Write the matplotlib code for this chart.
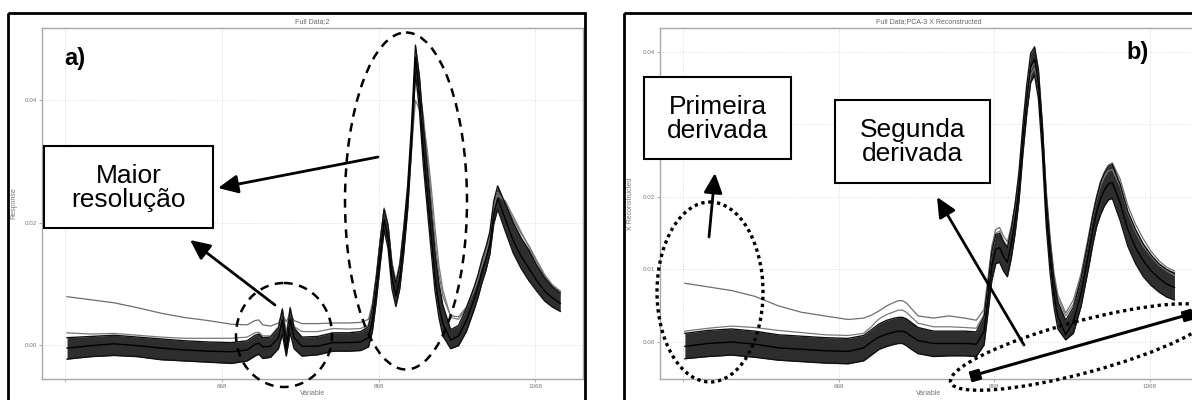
import matplotlib
matplotlib.use("Agg")
import matplotlib.pyplot as plt
from matplotlib.patches import Rectangle, Ellipse

plt.rcParams['font.family'] = ['Liberation Sans', 'DejaVu Sans']

# ---------------- data ----------------
wl = [470, 500, 530, 560, 590, 620, 650, 680,
      700, 710, 715, 720, 730, 740, 745, 750, 755, 760,
      770, 790, 810, 830, 845, 855,
      860, 865, 870, 875, 880, 885, 890, 895, 900, 905,
      910, 915, 920, 925, 930, 935, 940, 945, 950,
      960, 970, 980, 990, 995, 1000, 1005, 1010, 1015, 1020,
      1030, 1040, 1050, 1060, 1070, 1080, 1090, 1100]

# panel a) "Full Data;2"
a_mid = [-0.0005, -0.0001, 0.0002, -0.0001, -0.0005, -0.0008, -0.0010, -0.0011,
         -0.0008, 0.0001, 0.0003, -0.0003, -0.0002, 0.0012, 0.0040, -0.0008, 0.0042, 0.0012,
         -0.0002, -0.0002, 0.0004, 0.0004, 0.0005, 0.0012,
         0.0040, 0.0090, 0.0150, 0.0205, 0.0175, 0.0110, 0.0080, 0.0110, 0.0170, 0.0240,
         0.0340, 0.0470, 0.0410, 0.0320, 0.0250, 0.0180, 0.0110, 0.0065, 0.0035,
         0.0008, 0.0015, 0.0040, 0.0075, 0.0095, 0.0120, 0.0140, 0.0165, 0.0215, 0.0240,
         0.0205, 0.0170, 0.0145, 0.0125, 0.0105, 0.0088, 0.0077, 0.0068]
a_hi = [0.0012, 0.0014, 0.0016, 0.0013, 0.0010, 0.0007, 0.0005, 0.0004,
        0.0007, 0.0016, 0.0018, 0.0012, 0.0013, 0.0028, 0.0058, 0.0010, 0.0060, 0.0028,
        0.0013, 0.0014, 0.0020, 0.0020, 0.0022, 0.0030,
        0.0060, 0.0110, 0.0170, 0.0222, 0.0195, 0.0130, 0.0100, 0.0130, 0.0190, 0.0260,
        0.0360, 0.0490, 0.0440, 0.0360, 0.0290, 0.0220, 0.0150, 0.0100, 0.0065,
        0.0025, 0.0032, 0.0060, 0.0095, 0.0115, 0.0140, 0.0160, 0.0185, 0.0235, 0.0260,
        0.0230, 0.0200, 0.0175, 0.0155, 0.0130, 0.0110, 0.0095, 0.0085]
a_lo = [-0.0023, -0.0019, -0.0017, -0.0019, -0.0024, -0.0026, -0.0028, -0.0030,
        -0.0026, -0.0018, -0.0015, -0.0022, -0.0020, -0.0006, 0.0018, -0.0018, 0.0020, -0.0006,
        -0.0018, -0.0016, -0.0010, -0.0010, -0.0009, -0.0003,
        0.0022, 0.0072, 0.0132, 0.0188, 0.0158, 0.0092, 0.0063, 0.0092, 0.0150, 0.0220,
        0.0320, 0.0445, 0.0385, 0.0295, 0.0225, 0.0155, 0.0088, 0.0045, 0.0015,
        -0.0006, -0.0001, 0.0022, 0.0058, 0.0078, 0.0102, 0.0122, 0.0148, 0.0198, 0.0222,
        0.0185, 0.0150, 0.0125, 0.0105, 0.0088, 0.0072, 0.0062, 0.0055]
a_outlier = [0.0079, 0.0074, 0.0069, 0.0061, 0.0052, 0.0045, 0.0040, 0.0034,
             0.0033, 0.0040, 0.0041, 0.0033, 0.0031, 0.0036, 0.0050, 0.0038, 0.0052, 0.0040,
             0.0035, 0.0035, 0.0036, 0.0036, 0.0037, 0.0042,
             0.0068, 0.0115, 0.0172, 0.0220, 0.0195, 0.0135, 0.0105, 0.0135, 0.0190, 0.0255,
             0.0345, 0.0440, 0.0420, 0.0375, 0.0310, 0.0240, 0.0170, 0.0115, 0.0080,
             0.0048, 0.0046, 0.0062, 0.0092, 0.0112, 0.0135, 0.0155, 0.0180, 0.0225, 0.0250,
             0.0232, 0.0205, 0.0182, 0.0162, 0.0138, 0.0115, 0.0098, 0.0088]
a_stray = [0.0020, 0.0018, 0.0019, 0.0016, 0.0013, 0.0011, 0.0011, 0.0011,
           0.0013, 0.0020, 0.0021, 0.0015, 0.0015, 0.0030, 0.0060, 0.0020, 0.0062, 0.0030,
           0.0022, 0.0022, 0.0027, 0.0026, 0.0027, 0.0033,
           0.0062, 0.0112, 0.0172, 0.0224, 0.0198, 0.0133, 0.0102, 0.0128, 0.0180, 0.0240,
           0.0320, 0.0400, 0.0385, 0.0365, 0.0320, 0.0260, 0.0190, 0.0130, 0.0090,
           0.0045, 0.0042, 0.0060, 0.0090, 0.0108, 0.0130, 0.0150, 0.0175, 0.0220, 0.0245,
           0.0235, 0.0210, 0.0185, 0.0160, 0.0135, 0.0112, 0.0098, 0.0088]

# panel b) "Full Data;PCA-3 X Reconstructed"
b_mid = [-0.0006, -0.0002, 0.0000, -0.0003, -0.0008, -0.0010, -0.0012, -0.0013,
         -0.0008, 0.0000, 0.0004, 0.0007, 0.0011, 0.0014, 0.0015, 0.0015, 0.0013, 0.0009,
         0.0002, -0.0002, -0.0002, -0.0002, -0.0003, 0.0015,
         0.0060, 0.0105, 0.0128, 0.0130, 0.0118, 0.0110, 0.0135, 0.0170, 0.0215, 0.0280,
         0.0335, 0.0380, 0.0390, 0.0355, 0.0280, 0.0180, 0.0115, 0.0065, 0.0035,
         0.0010, 0.0028, 0.0068, 0.0125, 0.0155, 0.0180, 0.0198, 0.0210, 0.0218, 0.0220,
         0.0192, 0.0155, 0.0130, 0.0112, 0.0098, 0.0088, 0.0080, 0.0075]
b_hi = [0.0012, 0.0016, 0.0018, 0.0015, 0.0010, 0.0008, 0.0006, 0.0005,
        0.0009, 0.0017, 0.0021, 0.0025, 0.0030, 0.0033, 0.0034, 0.0034, 0.0032, 0.0028,
        0.0020, 0.0015, 0.0015, 0.0015, 0.0014, 0.0035,
        0.0080, 0.0125, 0.0148, 0.0150, 0.0138, 0.0130, 0.0155, 0.0190, 0.0235, 0.0300,
        0.0355, 0.0398, 0.0407, 0.0375, 0.0300, 0.0200, 0.0135, 0.0085, 0.0055,
        0.0030, 0.0048, 0.0088, 0.0145, 0.0175, 0.0200, 0.0220, 0.0233, 0.0242, 0.0245,
        0.0218, 0.0180, 0.0155, 0.0135, 0.0120, 0.0108, 0.0100, 0.0095]
b_lo = [-0.0023, -0.0020, -0.0018, -0.0021, -0.0025, -0.0027, -0.0029, -0.0030,
        -0.0026, -0.0018, -0.0014, -0.0010, -0.0006, -0.0003, -0.0002, -0.0002, -0.0005, -0.0009,
        -0.0016, -0.0020, -0.0019, -0.0019, -0.0020, -0.0004,
        0.0040, 0.0085, 0.0108, 0.0110, 0.0098, 0.0090, 0.0115, 0.0150, 0.0195, 0.0260,
        0.0315, 0.0358, 0.0368, 0.0335, 0.0260, 0.0160, 0.0095, 0.0048, 0.0018,
        0.0003, 0.0012, 0.0050, 0.0105, 0.0135, 0.0160, 0.0176, 0.0188, 0.0196, 0.0198,
        0.0168, 0.0132, 0.0108, 0.0090, 0.0078, 0.0069, 0.0062, 0.0058]
b_outlier = [0.0081, 0.0076, 0.0071, 0.0063, 0.0050, 0.0041, 0.0036, 0.0031,
             0.0033, 0.0037, 0.0040, 0.0043, 0.0050, 0.0055, 0.0057, 0.0057, 0.0054, 0.0048,
             0.0036, 0.0033, 0.0036, 0.0033, 0.0030, 0.0045,
             0.0088, 0.0132, 0.0155, 0.0158, 0.0146, 0.0138, 0.0160, 0.0190, 0.0230, 0.0290,
             0.0340, 0.0375, 0.0385, 0.0360, 0.0300, 0.0210, 0.0145, 0.0095, 0.0065,
             0.0040, 0.0058, 0.0095, 0.0150, 0.0178, 0.0202, 0.0222, 0.0235, 0.0244, 0.0247,
             0.0225, 0.0188, 0.0162, 0.0142, 0.0125, 0.0112, 0.0103, 0.0098]
b_stray = [0.0015, 0.0019, 0.0022, 0.0020, 0.0016, 0.0013, 0.0010, 0.0009,
           0.0012, 0.0021, 0.0027, 0.0032, 0.0038, 0.0042, 0.0044, 0.0044, 0.0041, 0.0036,
           0.0026, 0.0021, 0.0021, 0.0020, 0.0019, 0.0038,
           0.0082, 0.0128, 0.0150, 0.0153, 0.0140, 0.0132, 0.0152, 0.0182, 0.0222, 0.0280,
           0.0330, 0.0368, 0.0378, 0.0355, 0.0292, 0.0205, 0.0140, 0.0090, 0.0060,
           0.0036, 0.0052, 0.0090, 0.0146, 0.0174, 0.0198, 0.0216, 0.0228, 0.0236, 0.0238,
           0.0215, 0.0178, 0.0152, 0.0132, 0.0118, 0.0106, 0.0098, 0.0092]

x_ticks = [468, 668, 868, 1068]
x_tick_labels = ['', '668', '868', '1068']
a_y_ticks = [0.00, 0.02, 0.04]
a_y_tick_labels = ['0.00', '0.02', '0.04']
b_y_ticks = [0.00, 0.01, 0.02, 0.03, 0.04]
b_y_tick_labels = ['0.00', '0.01', '0.02', '0.03', '0.04']

# ---------------- figure ----------------
W, H = 1192, 400
fig = plt.figure(figsize=(W / 100, H / 100), dpi=100)


def frac(x0, y0, x1, y1):
    return [x0 / W, 1 - y1 / H, (x1 - x0) / W, (y1 - y0) / H]


ax_a = fig.add_axes(frac(42, 28, 583, 379))
ax_b = fig.add_axes(frac(660, 28, 1197, 379))


def draw_panel(ax, hi, mid, lo, stray, outlier, ylim, yticks, yticklabels,
               title, ylabel, ylabel_x):
    ax.fill_between(wl, lo, hi, color='#2e2e2e', lw=0, zorder=2)
    ax.plot(wl, outlier, color='#6e6e6e', lw=0.9, zorder=3)
    ax.plot(wl, stray, color='#7a7a7a', lw=0.9, zorder=3)
    for s in (hi, lo):
        ax.plot(wl, s, color='#111111', lw=1.0, zorder=4)
    ax.plot(wl, mid, color='#000000', lw=1.0, zorder=4)
    ax.set_xlim(438, 1129)
    ax.set_ylim(*ylim)
    ax.set_xticks(x_ticks)
    ax.set_xticklabels(x_tick_labels)
    ax.set_yticks(yticks)
    ax.set_yticklabels(yticklabels)
    ax.grid(True, linestyle=(0, (1, 2)), color='#cfcfcf', lw=0.6, zorder=0)
    ax.tick_params(labelsize=4.5, colors='#8a8a8a', labelcolor='#777777',
                   length=2, width=0.5, pad=1.5)
    for sp in ax.spines.values():
        sp.set_color('#a8a8a8')
        sp.set_linewidth(1.0)
    ax.set_title(title, fontsize=5, color='#666666', pad=3.5)
    ax.set_xlabel('Variable', fontsize=5, color='#777777', labelpad=1)
    ax.set_ylabel(ylabel, fontsize=5, color='#777777')
    ax.yaxis.set_label_coords(ylabel_x, 0.5)


draw_panel(ax_a, a_hi, a_mid, a_lo, a_stray, a_outlier, (-0.00555, 0.0518),
           a_y_ticks, a_y_tick_labels, 'Full Data;2', 'Response', -0.045)
draw_panel(ax_b, b_hi, b_mid, b_lo, b_stray, b_outlier, (-0.0051, 0.0433),
           b_y_ticks, b_y_tick_labels, 'Full Data;PCA-3 X Reconstructed',
           'X Reconstructed', -0.048)

# ---------------- overlay annotations (pixel space) ----------------
ov = fig.add_axes([0, 0, 1, 1])
ov.set_xlim(0, W)
ov.set_ylim(H, 0)
ov.axis('off')
ov.patch.set_alpha(0)
ov.set_zorder(10)

# outer panel frames
ov.add_patch(Rectangle((8, 13), 577, 420, fill=False, ec='black', lw=2.0))
ov.add_patch(Rectangle((624, 13), 620, 420, fill=False, ec='black', lw=2.0))

arrow_kw = dict(arrowstyle='-|>,head_length=0.6,head_width=0.28', lw=2.0,
                color='black', shrinkA=0, shrinkB=0, mutation_scale=20)
dash = (0, (3.5, 2.6))
dots = (0, (1, 1.1))

# panel a
ov.text(75, 59, 'a)', fontsize=17, fontweight='bold', ha='center', va='center')
ov.add_patch(Rectangle((44, 146), 169, 82, fc='white', ec='black', lw=1.5))
ov.text(128.5, 188, 'Maior\nresolução', fontsize=19, ha='center', va='center',
        linespacing=1.05)
ov.add_patch(Ellipse((406, 201), 122, 337, fill=False, ec='black', lw=1.8, ls=dash))
ov.add_patch(Ellipse((284, 335), 96, 104, fill=False, ec='black', lw=1.8, ls=dash))
ov.annotate('', xy=(218, 188), xytext=(378, 157), arrowprops=arrow_kw)
ov.annotate('', xy=(190, 240), xytext=(275, 305), arrowprops=arrow_kw)

# panel b
ov.text(1138, 53, 'b)', fontsize=17, fontweight='bold', ha='center', va='center')
ov.add_patch(Rectangle((644, 77), 147, 82, fc='white', ec='black', lw=1.5))
ov.text(717.5, 119, 'Primeira\nderivada', fontsize=19, ha='center', va='center',
        linespacing=1.05)
ov.add_patch(Rectangle((835, 100), 155, 83, fc='white', ec='black', lw=1.5))
ov.text(912.5, 142, 'Segunda\nderivada', fontsize=19, ha='center', va='center',
        linespacing=1.05)
ov.add_patch(Ellipse((710, 292), 106, 180, fill=False, ec='black', lw=2.4, ls=dots))
ov.add_patch(Ellipse((1082, 347), 272, 52, angle=-15, fill=False, ec='black',
                     lw=2.4, ls=dots))
ov.annotate('', xy=(715, 173), xytext=(709, 237), arrowprops=arrow_kw)
ov.annotate('', xy=(937, 197), xytext=(1024, 345), arrowprops=arrow_kw)
ov.plot([975, 1187], [375, 315], color='black', lw=2.2, marker=(4, 0, 61),
        ms=10, solid_capstyle='butt')

fig.savefig('out.png', dpi=100)
